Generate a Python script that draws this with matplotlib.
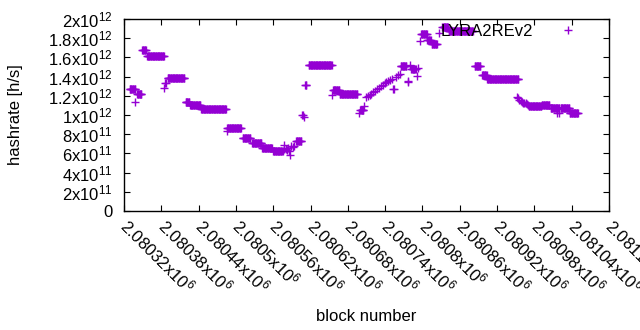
import numpy as np
import matplotlib
matplotlib.use('Agg')
import matplotlib.pyplot as plt

plt.rcParams['font.family'] = ['Liberation Sans', 'DejaVu Sans']
plt.rcParams['mathtext.fontset'] = 'custom'
plt.rcParams['mathtext.rm'] = 'Liberation Sans'
plt.rcParams['mathtext.default'] = 'regular'

# plateaus: first block, last block, hashrate (h/s)
seg_first = [2080329, 2080341, 2080349, 2080357, 2080386, 2080390, 2080419, 2080426,
             2080444, 2080486, 2080511, 2080526, 2080542, 2080560, 2080597, 2080607,
             2080611, 2080617, 2080656, 2080667, 2080700, 2080765, 2080782, 2080798,
             2080808, 2080815, 2080832, 2080842, 2080884, 2080896, 2080904, 2080971,
             2080992, 2081006, 2081022, 2081038]
seg_last = [2080338, 2080348, 2080355, 2080384, 2080387, 2080417, 2080425, 2080443,
            2080484, 2080508, 2080523, 2080541, 2080558, 2080575, 2080605, 2080608,
            2080613, 2080654, 2080666, 2080695, 2080705, 2080774, 2080789, 2080807,
            2080813, 2080823, 2080841, 2080881, 2080893, 2080903, 2080954, 2080991,
            2081004, 2081020, 2081036, 2081050]
seg_rate = [1.276e12, 1.217e12, 1.675e12, 1.611e12, 1.33e12, 1.382e12, 1.139e12, 1.107e12,
            1.059e12, 8.61e11, 7.57e11, 7.08e11, 6.53e11, 6.2e11, 7.26e11, 1.0e12,
            1.31e12, 1.521e12, 1.26e12, 1.22e12, 1.05e12, 1.507e12, 1.48e12, 1.844e12,
            1.785e12, 1.74e12, 1.914e12, 1.875e12, 1.514e12, 1.417e12, 1.378e12, 1.09e12,
            1.10e12, 1.07e12, 1.07e12, 1.016e12]

# single blocks
pt_block = [2080338, 2080385, 2080485, 2080577, 2080578, 2080580, 2080582, 2080584,
            2080586, 2080587, 2080589, 2080591, 2080593, 2080609, 2080655, 2080698,
            2080706, 2080709, 2080712, 2080715, 2080718, 2080721, 2080724, 2080727,
            2080730, 2080733, 2080736, 2080739, 2080742, 2080745, 2080748, 2080751,
            2080752, 2080754, 2080758, 2080761, 2080764, 2080776, 2080777, 2080780,
            2080792, 2080793, 2080796, 2080827, 2080952, 2080954, 2080956, 2080958,
            2080960, 2080962, 2080964, 2080966, 2080968, 2080970, 2081016, 2081020,
            2081037]
pt_rate = [1.132e12, 1.278e12, 8.37e11, 6.45e11, 6.9e11, 6.5e11, 6.4e11, 6.55e11,
           6.3e11, 5.83e11, 6.75e11, 6.7e11, 6.8e11, 9.8e11, 1.21e12, 1.02e12,
           1.09e12, 1.19e12, 1.20e12, 1.21e12, 1.22e12, 1.24e12, 1.25e12, 1.27e12,
           1.28e12, 1.30e12, 1.31e12, 1.33e12, 1.34e12, 1.35e12, 1.36e12, 1.37e12,
           1.27e12, 1.27e12, 1.40e12, 1.42e12, 1.43e12, 1.34e12, 1.35e12, 1.52e12,
           1.41e12, 1.49e12, 1.77e12, 1.854e12, 1.19e12, 1.175e12, 1.16e12, 1.15e12,
           1.14e12, 1.13e12, 1.125e12, 1.12e12, 1.11e12, 1.105e12, 1.02e12, 1.02e12,
           1.02e12]

x_ticks = [2080320, 2080380, 2080440, 2080500, 2080560, 2080620, 2080680,
           2080740, 2080800, 2080860, 2080920, 2080980, 2081040, 2081100]
x_labels = ['2.08032', '2.08038', '2.08044', '2.0805', '2.08056', '2.08062', '2.08068',
            '2.08074', '2.0808', '2.08086', '2.08092', '2.08098', '2.08104', '2.0811']
y_ticks = [0, 2e11, 4e11, 6e11, 8e11, 1e12, 1.2e12, 1.4e12, 1.6e12, 1.8e12, 2e12]
y_labels = ['0', '2', '4', '6', '8', '1', '1.2', '1.4', '1.6', '1.8', '2']
y_exps = ['', '11', '11', '11', '11', '12', '12', '12', '12', '12', '12']

FS = 12

blocks = np.concatenate([np.arange(f, l + 1) for f, l in zip(seg_first, seg_last)] + [np.array(pt_block)])
rates = np.concatenate([np.full(l - f + 1, r) for f, l, r in zip(seg_first, seg_last, seg_rate)] + [np.array(pt_rate)])

fig = plt.figure(figsize=(6.4, 3.3), dpi=100)
ax = fig.add_axes([124/640, 1-211/330, 485/640, 192/330])

ax.plot(blocks, rates, '+', color='#9400d3', ms=5.5, mew=1.0, label='LYRA2REv2')

ax.set_xlim(2080320, 2081100)
ax.set_ylim(0, 2e12)
ax.set_xticks(x_ticks)
ax.set_xticklabels([s + r'x10$^{6}$' for s in x_labels], rotation=-45,
                   ha='left', va='center', rotation_mode='anchor')
ax.set_yticks(y_ticks)
ax.set_yticklabels([m if e == '' else m + r'x10$^{' + e + '}$' for m, e in zip(y_labels, y_exps)])
ax.tick_params(direction='in', length=4, width=0.8, top=True, right=True,
               labelsize=FS, colors='black')
ax.tick_params(axis='x', pad=8)
ax.tick_params(axis='y', pad=8)
for s in ax.spines.values():
    s.set_linewidth(1)

ax.set_xlabel('block number', fontsize=FS)
ax.set_ylabel('hashrate [h/s]', fontsize=FS)
ax.xaxis.set_label_coords(0.5, -0.51)
ax.yaxis.set_label_coords(-0.208, 0.5)

ax.legend(loc='upper right', bbox_to_anchor=(0.949, 0.975), frameon=False,
          markerfirst=False, handlelength=2.0, handletextpad=1.05,
          borderaxespad=0, borderpad=0, fontsize=FS)

fig.savefig('out.png', dpi=100)
